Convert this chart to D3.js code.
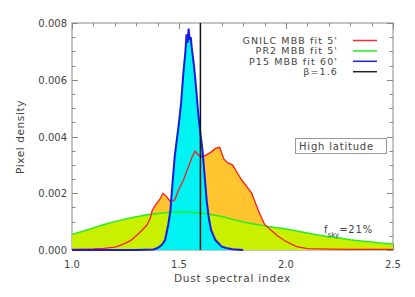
<!DOCTYPE html>
<html lang="en">
  <head>
    <meta charset="utf-8" />
    <title>Dust spectral index</title>
    <script src="https://d3js.org/d3.v7.min.js"></script>
    <style type="text/css">
      body { margin: 0; background: #fff; }
      text { font-family: "DejaVu Sans", sans-serif; fill: #444; }
    </style>
  </head>
  <body>
    <script type="text/javascript">
      //Width and height
      var w = 415;
      var h = 297;
      var margin = { top: 23, right: 22, bottom: 47, left: 72 };

      // PR2 MBB fit 5' (green)
      var pr2X = [1.0, 1.05, 1.1, 1.15, 1.2, 1.25, 1.3, 1.35, 1.4, 1.45, 1.5, 1.55, 1.6, 1.65, 1.7,
        1.75, 1.8, 1.85, 1.9, 1.95, 2.0, 2.05, 2.1, 2.15, 2.2, 2.25, 2.3, 2.35, 2.4, 2.45, 2.5];
      var pr2Y = [0.00055, 0.00066, 0.00078, 0.0009, 0.001, 0.00109, 0.00117, 0.00124, 0.00129,
        0.00132, 0.00134, 0.00133, 0.0013, 0.00125, 0.00118, 0.00108, 0.00099, 0.00092, 0.00085,
        0.00079, 0.00074, 0.00067, 0.0006, 0.00053, 0.00047, 0.00042, 0.00036, 0.00032, 0.00028,
        0.00024, 0.00021];

      // GNILC MBB fit 5' (red)
      var gnilcX = [1.0, 1.05, 1.1, 1.15, 1.2, 1.225, 1.25, 1.275, 1.3, 1.325, 1.35, 1.365, 1.375,
        1.39, 1.41, 1.425, 1.44, 1.46, 1.48, 1.5, 1.52, 1.54, 1.56, 1.575, 1.59, 1.61, 1.63, 1.65,
        1.67, 1.69, 1.71, 1.73, 1.75, 1.77, 1.79, 1.81, 1.84, 1.87, 1.9, 1.93, 1.96, 2.0, 2.05,
        2.1, 2.2, 2.3, 2.4, 2.5];
      var gnilcY = [0.00002, 0.00003, 0.00004, 0.00006, 0.0001, 0.00016, 0.00024, 0.00034,
        0.0005, 0.00068, 0.00088, 0.0011, 0.0014, 0.00158, 0.00178, 0.002, 0.0019, 0.0017,
        0.00176, 0.00215, 0.00245, 0.00285, 0.00325, 0.00348, 0.00335, 0.00328, 0.00336,
        0.00345, 0.00358, 0.00362, 0.0032, 0.00306, 0.003, 0.00275, 0.0025, 0.0023, 0.002,
        0.0014, 0.0009, 0.0007, 0.0005, 0.0003, 0.00012, 0.00005, 0.00003, 0.00002, 0.00002,
        0.00002];

      // P15 MBB fit 60' (blue)
      var p15X = [1.0, 1.3, 1.38, 1.4, 1.42, 1.435, 1.45, 1.46, 1.47, 1.48, 1.49, 1.5, 1.51,
        1.52, 1.53, 1.535, 1.54, 1.545, 1.55, 1.555, 1.56, 1.57, 1.58, 1.59, 1.6, 1.61, 1.62,
        1.63, 1.64, 1.65, 1.67, 1.7, 1.72, 1.75, 1.8];
      var p15Y = [0, 0, 0.00002, 0.00007, 0.00018, 0.00035, 0.0009, 0.0014, 0.0024, 0.0033,
        0.0039, 0.0045, 0.0052, 0.0062, 0.007, 0.0076, 0.0073, 0.0078, 0.0074, 0.0075, 0.0071,
        0.0065, 0.0057, 0.0048, 0.0041, 0.0035, 0.0026, 0.0017, 0.0011, 0.0007, 0.00035,
        0.00012, 0.00007, 0.00003, 0];

      var beta = 1.6;
      var xTicks = [1.0, 1.5, 2.0, 2.5];
      var yTicks = [0, 0.002, 0.004, 0.006, 0.008];
      var legendNames = ["GNILC MBB fit 5'", "PR2 MBB fit 5'", "P15 MBB fit 60'", "\u03b2=1.6"];
      var legendColors = ["#ff2a2a", "#22ee22", "#2020e0", "#222"];

      var xScale = d3.scaleLinear().domain([1.0, 2.5]).range([margin.left, w - margin.right]);
      var yScale = d3.scaleLinear().domain([0, 0.008]).range([h - margin.bottom, margin.top]);

      //Create SVG element
      var svg = d3.select("body").append("svg").attr("width", w).attr("height", h);

      var x0 = xScale.range()[0], x1 = xScale.range()[1];
      var y0 = yScale.range()[0], y1 = yScale.range()[1];

      //Axes (IDL style, ticks inward on all four sides)
      var axisColor = "#888";
      var tickG = svg.append("g").attr("stroke", axisColor).attr("stroke-width", 1);
      tickG.append("rect").attr("x", x0).attr("y", y1).attr("width", x1 - x0)
        .attr("height", y0 - y1).attr("fill", "none");
      d3.range(10, 26).map(function (d) { return d / 10; }).forEach(function (v, i) {
        var len = i % 5 === 0 ? 6 : 3.5;
        var px = Math.round(xScale(v)) + 0.5;
        tickG.append("line").attr("x1", px).attr("x2", px).attr("y1", y0).attr("y2", y0 - len);
        tickG.append("line").attr("x1", px).attr("x2", px).attr("y1", y1).attr("y2", y1 + len);
      });
      d3.range(0, 17).map(function (d) { return d * 0.0005; }).forEach(function (v, i) {
        var len = i % 4 === 0 ? 6 : 3.5;
        var py = Math.round(yScale(v)) + 0.5;
        tickG.append("line").attr("x1", x0).attr("x2", x0 + len).attr("y1", py).attr("y2", py);
        tickG.append("line").attr("x1", x1).attr("x2", x1 - len).attr("y1", py).attr("y2", py);
      });

      //Tick labels
      svg.selectAll(".xl").data(xTicks).enter().append("text")
        .attr("x", function (d) { return xScale(d); })
        .attr("y", 268)
        .attr("text-anchor", "middle")
        .attr("font-size", 10)
        .text(function (d) { return d.toFixed(1); });
      svg.selectAll(".yl").data(yTicks).enter().append("text")
        .attr("x", x0 - 5)
        .attr("y", function (d) { return yScale(d) + 4; })
        .attr("text-anchor", "end")
        .attr("font-size", 10)
        .text(function (d) { return d.toFixed(3); });

      //Axis titles
      svg.append("text").attr("x", (x0 + x1) / 2).attr("y", 282)
        .attr("text-anchor", "middle").attr("font-size", 10.5).attr("letter-spacing", 0.8)
        .text("Dust spectral index");
      svg.append("text").attr("transform", "translate(24,137) rotate(-90)")
        .attr("text-anchor", "middle").attr("font-size", 10.5).attr("letter-spacing", 0.6)
        .text("Pixel density");

      //Areas
      function area(xs) {
        return d3.area()
          .x(function (d, i) { return xScale(xs[i]); })
          .y0(y0)
          .y1(function (d) { return yScale(d); });
      }
      function line(xs) {
        return d3.line()
          .x(function (d, i) { return xScale(xs[i]); })
          .y(function (d) { return yScale(d); });
      }

      svg.append("path").datum(gnilcY).attr("d", area(gnilcX)).attr("fill", "#ffc42e");
      svg.append("path").datum(pr2Y).attr("d", area(pr2X)).attr("fill", "#c8f000");
      svg.append("path").datum(p15Y).attr("d", area(p15X)).attr("fill", "#00f2f2");

      svg.append("path").datum(pr2Y).attr("d", line(pr2X)).attr("fill", "none")
        .attr("stroke", "#22ee22").attr("stroke-width", 1.5);
      svg.append("path").datum(gnilcY).attr("d", line(gnilcX)).attr("fill", "none")
        .attr("stroke", "#ff1a1a").attr("stroke-width", 1.3);
      svg.append("path").datum(p15Y).attr("d", line(p15X)).attr("fill", "none")
        .attr("stroke", "#1a1ae0").attr("stroke-width", 2);

      //beta line
      svg.append("line").attr("x1", xScale(beta)).attr("x2", xScale(beta))
        .attr("y1", y0).attr("y2", y1).attr("stroke", "#111").attr("stroke-width", 1.5);

      //Legend
      var leg = svg.append("g");
      legendNames.forEach(function (name, i) {
        var ly = 40.5 + i * 10.4;
        leg.append("text").attr("x", 338).attr("y", ly + 3.5)
          .attr("text-anchor", "end").attr("font-size", 9.5).attr("letter-spacing", 1.1)
          .text(name);
        leg.append("line").attr("x1", 353).attr("x2", 377).attr("y1", ly).attr("y2", ly)
          .attr("stroke", legendColors[i]).attr("stroke-width", 1.5);
      });

      //High latitude box
      svg.append("rect").attr("x", 295.5).attr("y", 138.5).attr("width", 91).attr("height", 15)
        .attr("fill", "#fff").attr("stroke", "#999");
      svg.append("text").attr("x", 299).attr("y", 150).attr("font-size", 10)
        .attr("letter-spacing", 0.8).text("High latitude");

      //f_sky annotation
      var fs = svg.append("text").attr("x", 324).attr("y", 233).attr("font-size", 10);
      fs.append("tspan").text("f");
      fs.append("tspan").attr("font-size", 7).attr("dy", 3.5).text("sky");
      fs.append("tspan").attr("dy", -3.5).attr("letter-spacing", 0.8).text("=21%");
    </script>
  </body>
</html>
